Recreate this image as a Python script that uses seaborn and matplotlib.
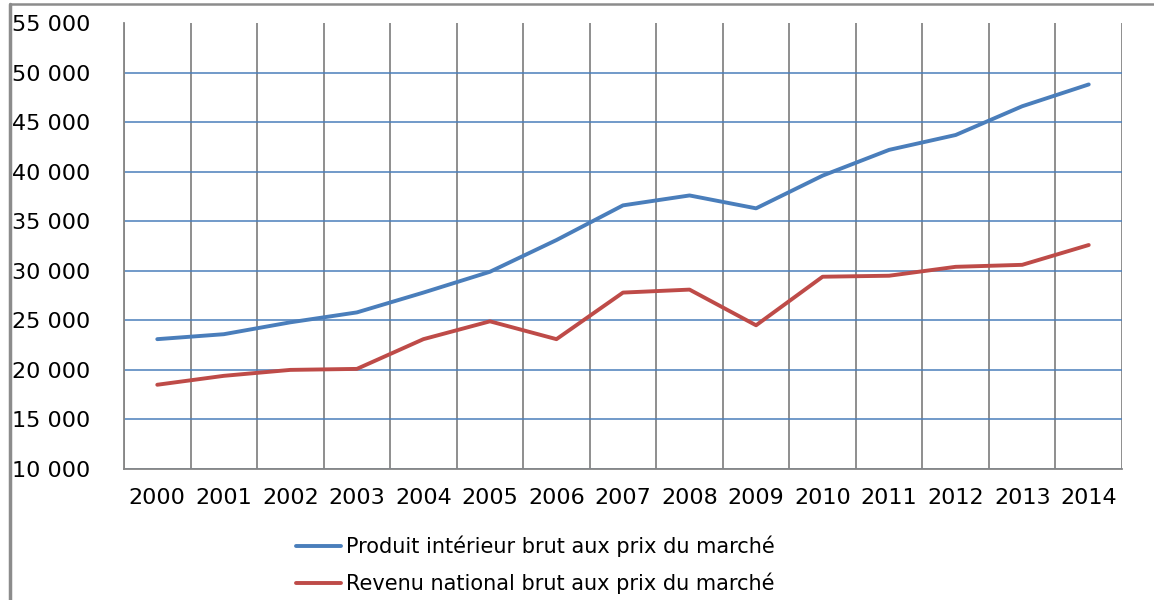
import numpy as np
import pandas as pd
import matplotlib
matplotlib.use("Agg")
import matplotlib.pyplot as plt
from matplotlib.lines import Line2D
from matplotlib.ticker import FuncFormatter
import seaborn as sns

years = [str(y) for y in range(2000, 2015)]
pib = [23100, 23600, 24800, 25800, 27800, 29900, 33100, 36600, 37600,
       36300, 39600, 42200, 43700, 46600, 48800]
rnb = [18500, 19400, 20000, 20100, 23100, 24900, 23100, 27800, 28100,
       24500, 29400, 29500, 30400, 30600, 32600]
series_names = ["Produit intérieur brut aux prix du marché",
                "Revenu national brut aux prix du marché"]
colors = ["#4A7EBB", "#BE4B48"]

df = pd.DataFrame({
    "x": list(range(len(years))) * 2,
    "valeur": pib + rnb,
    "serie": [series_names[0]] * len(years) + [series_names[1]] * len(years),
})

sns.set_style("white")
plt.rcParams["font.family"] = ["DejaVu Sans"]
plt.rcParams["text.color"] = "black"
plt.rcParams["xtick.color"] = "black"
plt.rcParams["ytick.color"] = "black"

fig = plt.figure(figsize=(11.54, 6), dpi=100)
ax = fig.add_axes([124 / 1154, 1 - 469 / 600, (1122 - 124) / 1154, (469 - 23) / 600])

sns.lineplot(data=df, x="x", y="valeur", hue="serie", palette=colors,
             linewidth=2.8, ax=ax, legend=False)

ax.set_xlim(-0.5, len(years) - 0.5)
ax.set_ylim(10000, 55000)
ax.set_xticks(range(len(years)))
ax.set_xticklabels(years)
ax.set_xticks(np.arange(-0.5, len(years)), minor=True)
ax.set_yticks(range(10000, 55001, 5000))
ax.yaxis.set_major_formatter(FuncFormatter(lambda v, p: f"{int(v):,}".replace(",", " ")))
ax.set_xlabel("")
ax.set_ylabel("")

grey = "#868686"
ax.set_axisbelow(True)
ax.grid(axis="y", which="major", color="#4A7EBB", linewidth=1.1)
ax.grid(axis="x", which="minor", color=grey, linewidth=1.3)
ax.grid(axis="x", which="major", visible=False)
ax.get_ygridlines()[-1].set_visible(False)

ax.tick_params(axis="x", which="major", length=0, labelsize=16, pad=14, labelcolor="black")
ax.tick_params(axis="x", which="minor", length=7, width=1.3, color=grey, direction="out")
ax.tick_params(axis="y", length=10, width=1.1, color=grey, direction="out",
               labelsize=16, pad=14, labelcolor="black")

for side in ["top", "right"]:
    ax.spines[side].set_visible(False)
for side in ["left", "bottom"]:
    ax.spines[side].set_color(grey)
    ax.spines[side].set_linewidth(1.3)

handles = [Line2D([], [], color=c, linewidth=2.8) for c in colors]
fig.legend(handles, series_names, loc="upper center", bbox_to_anchor=(535 / 1154, 1 - 517 / 600),
           frameon=False, fontsize=15, handlelength=2.2, handletextpad=0.2,
           labelspacing=0.75, labelcolor="black")

# outer chart frame (top and left edges visible in the crop)
fig.add_artist(Line2D([10 / 1154, 1], [1 - 4 / 600, 1 - 4 / 600], color="#8C8C8C", linewidth=1.8))
fig.add_artist(Line2D([10 / 1154, 10 / 1154], [0, 1 - 4 / 600], color="#8C8C8C", linewidth=2.5))

fig.savefig("out.png", dpi=100)
